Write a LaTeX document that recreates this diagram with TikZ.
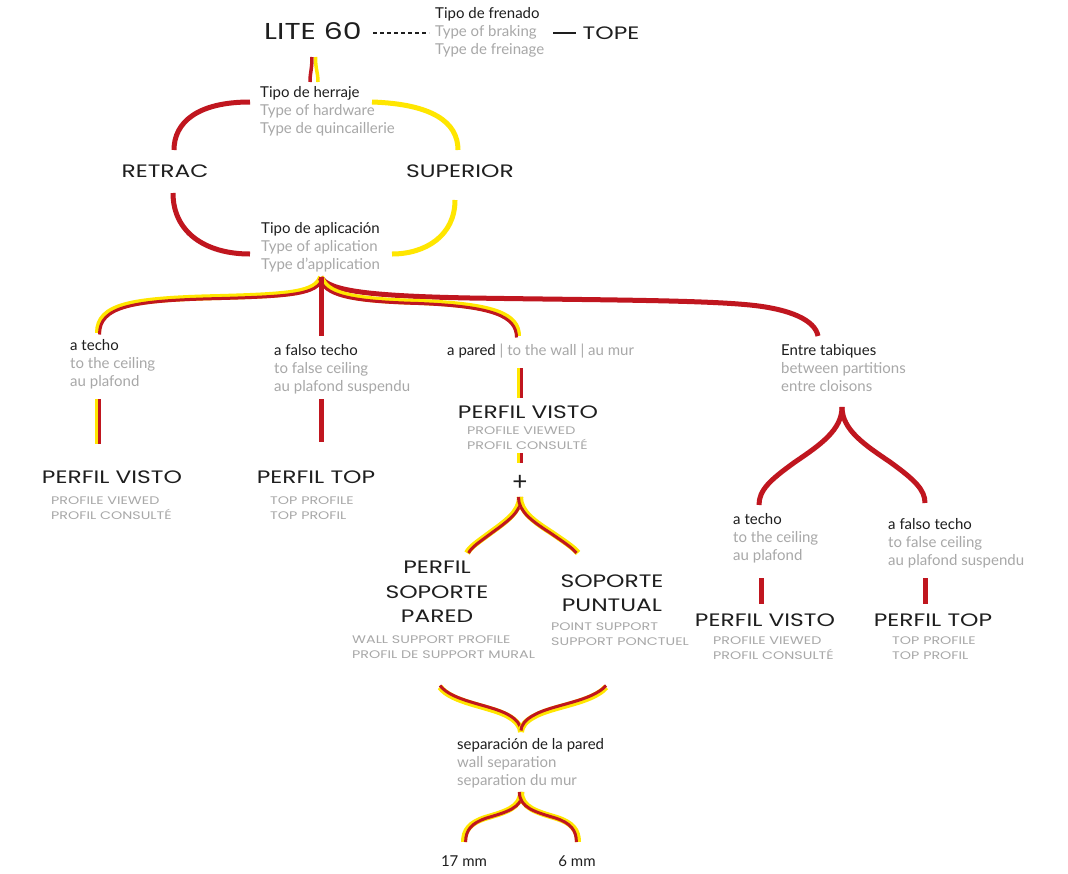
\documentclass[tikz,border=0pt]{standalone}
\usepackage{fontspec}
\setmainfont{Lato}
\newfontfamily\headfont[FakeStretch=1.3]{Poppins}
\definecolor{redc}{HTML}{C0161F}
\definecolor{yelc}{HTML}{FFE600}
\definecolor{ink}{HTML}{1E1E1E}
\definecolor{grey}{HTML}{A8A8A8}
\tikzset{
  hd/.style={font=\headfont\fontsize{18}{20}\selectfont, text=ink, inner sep=0pt, anchor=base},
  lite/.style={hd, font=\headfont\fontsize{23}{26}\selectfont},
  sb/.style={font=\headfont\fontsize{11}{12}\selectfont, text=grey, inner sep=0pt, anchor=base west},
  bd/.style={font=\fontsize{15}{18}\selectfont, text=ink, inner sep=0pt, anchor=base west},
  bg/.style={bd, text=grey},
  rk/.style={draw=redc, line width=5pt},
  yl/.style={draw=yelc, line width=6pt},
  rl/.style={draw=redc, line width=3pt},
  ry/.style={draw=yelc, line width=3.5pt},
  rr/.style={draw=redc, line width=3.5pt},
}
\newcommand\tri[6]{%
  \node[bd] (#1) at (#2,#3) {#4};
  \node[bg] (#1-2) at (#2,#3+18) {#5};
  \node[bg] (#1-3) at (#2,#3+36) {#6};}
\newcommand\duo[5]{%
  \node[sb] (#1) at (#2,#3) {#4};
  \node[sb] (#1-2) at (#2,#3+15.5) {#5};}
% double line, one segment: start, c1, c2, end, shift
\newcommand\dblone[5]{%
  \draw[yl] (#1) .. controls (#2) and (#3) .. (#4);
  \draw[rl] ([shift={#5}]#1) .. controls ([shift={#5}]#2) and ([shift={#5}]#3) .. ([shift={#5}]#4);}
% double line, two segments
\newcommand\dbltwo[8]{%
  \draw[yl] (#1) .. controls (#2) and (#3) .. (#4) .. controls (#5) and (#6) .. (#7);
  \draw[rl] ([shift={#8}]#1) .. controls ([shift={#8}]#2) and ([shift={#8}]#3) .. ([shift={#8}]#4) .. controls ([shift={#8}]#5) and ([shift={#8}]#6) .. ([shift={#8}]#7);}
\newcommand\dblline[3]{%
  \draw[yl] (#1) -- (#2);
  \draw[rl] ([shift={#3}]#1) -- ([shift={#3}]#2);}
\begin{document}
\begin{tikzpicture}[x=1pt,y=-1pt]
\useasboundingbox (0,0) rectangle (1068,873);
\fill[white] (0,0) rectangle (1068,873);

% ---------- top row ----------
\node[lite] (lite) at (313,39) {LITE 60};
\tri{fren}{435}{18}{Tipo de frenado}{Type of braking}{Type de freinage}
\node[hd] (tope) at (611,39) {TOPE};
\coordinate (dA) at (373,33);
\coordinate (dB) at (429,33);
\coordinate (tA) at (553,33);
\coordinate (tB) at (576,33);
\draw[ink, line width=2pt, dash pattern=on 4pt off 3pt] (dA) -- (dB);
\draw[ink, line width=2pt] (tA) -- (tB);

% fork below LITE 60
\coordinate (lR0) at (312,57); \coordinate (lR1) at (310,82);
\coordinate (lY0) at (315.5,57); \coordinate (lY1) at (318,82);
\draw[rr] (lR0) .. controls (312,70) and (310,72) .. (lR1);
\draw[ry] (lY0) .. controls (315.5,70) and (318,72) .. (lY1);

% ---------- hardware ----------
\tri{herr}{260}{97}{Tipo de herraje}{Type of hardware}{Type de quincaillerie}
\node[hd] (retrac) at (165,177) {RETRAC};
\node[hd] (sup) at (460,177) {SUPERIOR};
\coordinate (h1) at (250,102); \coordinate (h2) at (174,150);
\coordinate (h3) at (372,102); \coordinate (h4) at (458,150);
\draw[rk] (h1) .. controls (198,102) and (174,122) .. (h2);
\draw[draw=yelc, line width=5pt] (h3) .. controls (432,104) and (458,122) .. (h4);
\coordinate (a1) at (173,193); \coordinate (a2) at (250,254);
\coordinate (a3) at (455,200); \coordinate (a4) at (392,254);
\draw[rk] (a1) .. controls (173,232) and (205,254) .. (a2);
\draw[draw=yelc, line width=5pt] (a3) .. controls (455,236) and (425,254) .. (a4);

% ---------- application ----------
\tri{apl}{261}{233}{Tipo de aplicación}{Type of aplication}{Type d’application}
\coordinate (apex) at (321,277);
\coordinate (techoTop) at (98,333);
\coordinate (falsoTop) at (321,336);
\coordinate (paredTop) at (518,336);
\coordinate (entreTop) at (818,336);
\draw[rk] (apex) .. controls (328,291) and (370,296) .. (470,298)
  .. controls (600,300) and (700,300) .. (750,305)
  .. controls (790,309) and (815,320) .. (entreTop);
\dbltwo{apex}{316,293}{290,295}{220,297}{130,299}{98,305}{techoTop}{(1.5,1.5)}
\dbltwo{apex}{326,294}{350,300}{420,302}{495,305}{518,315}{paredTop}{(-1.5,1.5)}
\draw[rk] (apex) -- (falsoTop);

% column a techo
\tri{techo}{70}{350}{a techo}{to the ceiling}{au plafond}
\coordinate (v1a) at (98,399); \coordinate (v1b) at (98,444);
\dblline{v1a}{v1b}{(1.5,0)}
\node[hd] (pv1) at (112,483) {PERFIL VISTO};
\duo{pv1s}{51}{504}{PROFILE VIEWED}{PROFIL CONSULTÉ}

% column a falso techo
\tri{falso}{274}{355}{a falso techo}{to false ceiling}{au plafond suspendu}
\coordinate (v2a) at (321,399); \coordinate (v2b) at (321,442);
\draw[rk] (v2a) -- (v2b);
\node[hd] (pt1) at (316,483) {PERFIL TOP};
\duo{pt1s}{270}{504}{TOP PROFILE}{TOP PROFIL}

% column a pared
\node[bd] (pared) at (447,355) {a pared \textcolor{grey}{| to the wall | au mur}};
\coordinate (v3a) at (520,368); \coordinate (v3b) at (520,398);
\dblline{v3a}{v3b}{(1.5,0)}
\node[hd] (pv2) at (528,418) {PERFIL VISTO};
\duo{pv2s}{467}{434}{PROFILE VIEWED}{PROFIL CONSULTÉ}
\coordinate (v4a) at (520,453); \coordinate (v4b) at (520,463);
\dblline{v4a}{v4b}{(1.5,0)}
\node[font=\fontsize{26}{26}\selectfont, text=ink, inner sep=0pt] (plus) at (520,483) {+};
\coordinate (fork2) at (520,497);
\coordinate (psL) at (467,553); \coordinate (psR) at (578,553);
\dbltwo{fork2}{520,512}{505,522}{490,533}{478,542}{470,547}{psL}{(1.6,0)}
\dbltwo{fork2}{520,512}{535,522}{552,533}{565,542}{573,547}{psR}{(-1.6,0)}
\node[hd] (psp1) at (437,573) {PERFIL};
\node[hd] (psp2) at (437,598) {SOPORTE};
\node[hd] (psp3) at (437,622) {PARED};
\duo{psps}{352}{643}{WALL SUPPORT PROFILE}{PROFIL DE SUPPORT MURAL}
\node[hd] (spu1) at (612,587) {SOPORTE};
\node[hd] (spu2) at (612,611) {PUNTUAL};
\duo{spus}{551}{630}{POINT SUPPORT}{SUPPORT PONCTUEL}

% separation
\coordinate (sL) at (440,687); \coordinate (sR) at (606,687);
\coordinate (sApex) at (521,732);
\dbltwo{sL}{452,703}{490,706}{508,716}{517,721}{521,727}{sApex}{(0,-1.5)}
\dbltwo{sR}{592,703}{553,706}{535,716}{525,721}{521,727}{sApex}{(0,-1.5)}
\tri{sep}{457}{749}{separación de la pared}{wall separation}{separation du mur}
\coordinate (bApex) at (521,792);
\coordinate (b17) at (464,842); \coordinate (b6) at (578,842);
\dbltwo{bApex}{521,808}{505,812}{485,818}{470,823}{464,830}{b17}{(1.6,0)}
\dbltwo{bApex}{521,808}{537,812}{557,818}{572,823}{578,830}{b6}{(-1.6,0)}
\node[bd, anchor=base] (mm17) at (464,866) {17 mm};
\node[bd, anchor=base] (mm6) at (577,866) {6 mm};

% column entre tabiques
\tri{entre}{781}{355}{Entre tabiques}{between partitions}{entre cloisons}
\coordinate (eApex) at (842,407);
\coordinate (eL) at (759,505); \coordinate (eR) at (925,503);
\draw[rk] (eApex) .. controls (842,430) and (820,445) .. (795,462)
  .. controls (770,480) and (759,490) .. (eL);
\draw[rk] (eApex) .. controls (842,430) and (865,445) .. (890,462)
  .. controls (915,480) and (925,490) .. (eR);
\tri{etecho}{733}{524}{a techo}{to the ceiling}{au plafond}
\tri{efalso}{888}{529}{a falso techo}{to false ceiling}{au plafond suspendu}
\coordinate (v5a) at (761,578); \coordinate (v5b) at (761,604);
\coordinate (v6a) at (925,578); \coordinate (v6b) at (925,604);
\draw[rk] (v5a) -- (v5b);
\draw[rk] (v6a) -- (v6b);
\node[hd] (pv3) at (765,626) {PERFIL VISTO};
\duo{pv3s}{713}{644}{PROFILE VIEWED}{PROFIL CONSULTÉ}
\node[hd] (pt3) at (933,626) {PERFIL TOP};
\duo{pt3s}{892}{644}{TOP PROFILE}{TOP PROFIL}
\end{tikzpicture}
\end{document}
